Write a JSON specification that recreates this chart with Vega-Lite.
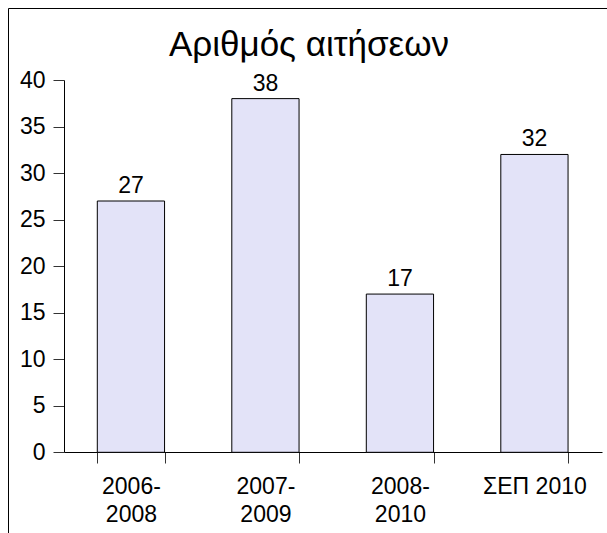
{
  "$schema": "https://vega.github.io/schema/vega-lite/v6.json",
  "width": 601,
  "height": 527,
  "autosize": {"type": "none"},
  "padding": {"left": 8, "top": 8, "right": -2, "bottom": -2},
  "background": "white",
  "title": {
    "text": "Αριθμός αιτήσεων",
    "font": "Liberation Sans",
    "fontSize": 35,
    "fontWeight": "normal",
    "color": "black",
    "baseline": "alphabetic",
    "anchor": "middle",
    "offset": -82.5,
    "dx": 0.5
  },
  "data": {
    "values": [
      {"period": "2006-2008", "count": 27},
      {"period": "2007-2009", "count": 38},
      {"period": "2008-2010", "count": 17},
      {"period": "ΣΕΠ 2010", "count": 32}
    ]
  },
  "encoding": {
    "x": {
      "field": "period",
      "type": "nominal",
      "sort": null,
      "scale": {"paddingInner": 0.5, "paddingOuter": 0.4842, "align": 0.6856},
      "axis": {
        "title": null,
        "orient": "bottom",
        "offset": -83,
        "tickBand": "extent",
        "tickSize": 11,
        "tickColor": "#333333",
        "domainColor": "black",
        "domainDash": [0, 56, 538, 100],
        "labelAngle": 0,
        "labelFont": "Liberation Sans",
        "labelFontSize": 23,
        "labelColor": "black",
        "labelPadding": 12,
        "labelLineHeight": 28,
        "labelOverlap": false,
        "labelExpr": "indexof(datum.label, '-') > 0 ? [slice(datum.label, 0, 5), slice(datum.label, 5) + '\u00a0'] : datum.label"
      }
    },
    "y": {
      "field": "count",
      "type": "quantitative",
      "scale": {"domain": [-8.885, 47.736], "nice": false, "zero": false},
      "axis": {
        "title": null,
        "grid": false,
        "values": [0, 5, 10, 15, 20, 25, 30, 35, 40],
        "offset": -56,
        "tickSize": 11,
        "tickColor": "#333333",
        "domainColor": "black",
        "domainDash": [0, 83, 372, 300],
        "labelFont": "Liberation Sans",
        "labelFontSize": 23,
        "labelColor": "black",
        "labelPadding": 8
      }
    }
  },
  "layer": [
    {
      "mark": {"type": "bar", "fill": "#E3E3F8", "stroke": "black", "strokeWidth": 1},
      "encoding": {"y2": {"datum": 0}}
    },
    {
      "mark": {"type": "text", "baseline": "alphabetic", "dy": -8, "font": "Liberation Sans", "fontSize": 23, "color": "black"},
      "encoding": {"text": {"field": "count", "type": "quantitative"}}
    }
  ],
  "config": {
    "view": {"stroke": "black", "strokeWidth": 1}
  }
}
